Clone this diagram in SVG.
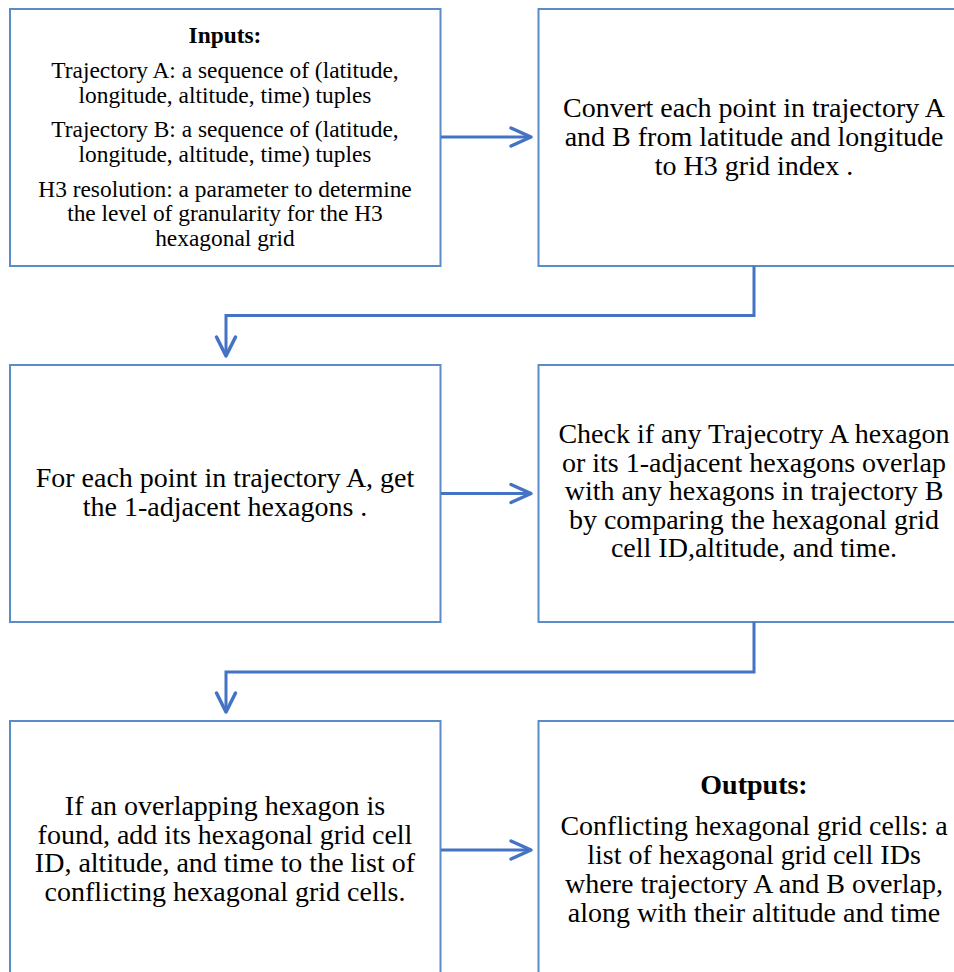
<svg xmlns="http://www.w3.org/2000/svg" width="954" height="972" viewBox="0 0 954 972">
<style>
.box{fill:#fff;stroke:#5B8BC8;stroke-width:2}
.t{font-family:"Liberation Serif","Times New Roman",serif;fill:#000;text-anchor:middle}
.s{font-size:23.4px}
.l{font-size:28px}
.b{font-weight:bold}
.c{fill:none;stroke:#4472C4;stroke-width:3;stroke-linejoin:miter}
.h{fill:none;stroke:#4472C4;stroke-width:3.5;stroke-linecap:round;stroke-linejoin:round}
</style>
<rect width="954" height="972" fill="#fff"/>
<g id="inputs">
<rect class="box" x="10" y="9" width="430.5" height="257"/>
<text class="t s b" x="225" y="43">Inputs:</text>
<text class="t s" x="225" y="78">Trajectory A: a sequence of (latitude,</text>
<text class="t s" x="225" y="102.5">longitude, altitude, time) tuples</text>
<text class="t s" x="225" y="137">Trajectory B: a sequence of (latitude,</text>
<text class="t s" x="225" y="161.5">longitude, altitude, time) tuples</text>
<text class="t s" x="225" y="197">H3 resolution: a parameter to determine</text>
<text class="t s" x="225" y="221">the level of granularity for the H3</text>
<text class="t s" x="225" y="245.5">hexagonal grid</text>
</g>
<g id="convert">
<rect class="box" x="538.5" y="9" width="431" height="257"/>
<text class="t l" x="754" y="117">Convert each point in trajectory A</text>
<text class="t l" x="754" y="146">and B from latitude and longitude</text>
<text class="t l" x="754" y="175">to H3 grid index .</text>
</g>
<g id="adjacent">
<rect class="box" x="10" y="365" width="430.5" height="257"/>
<text class="t l" x="225" y="487">For each point in trajectory A, get</text>
<text class="t l" x="225" y="516">the 1-adjacent hexagons .</text>
</g>
<g id="check">
<rect class="box" x="538.5" y="365" width="431" height="257"/>
<text class="t l" x="754" y="443">Check if any Trajecotry A hexagon</text>
<text class="t l" x="754" y="471.6">or its 1-adjacent hexagons overlap</text>
<text class="t l" x="754" y="500.2">with any hexagons in trajectory B</text>
<text class="t l" x="754" y="528.8">by comparing the hexagonal grid</text>
<text class="t l" x="754" y="557.4">cell ID,altitude, and time.</text>
</g>
<g id="add">
<rect class="box" x="10" y="721" width="430.5" height="257"/>
<text class="t l" x="225" y="815">If an overlapping hexagon is</text>
<text class="t l" x="225" y="843.6">found, add its hexagonal grid cell</text>
<text class="t l" x="225" y="872.2">ID, altitude, and time to the list of</text>
<text class="t l" x="225" y="900.8">conflicting hexagonal grid cells.</text>
</g>
<g id="outputs">
<rect class="box" x="538.5" y="721" width="431" height="257"/>
<text class="t l b" x="754" y="794">Outputs:</text>
<text class="t l" x="754" y="835">Conflicting hexagonal grid cells: a</text>
<text class="t l" x="754" y="864">list of hexagonal grid cell IDs</text>
<text class="t l" x="754" y="893">where trajectory A and B overlap,</text>
<text class="t l" x="754" y="922">along with their altitude and time</text>
</g>
<g id="connectors">
<path class="c" d="M441 137H530"/>
<path class="h" d="M511 128L531 137L511 146"/>
<path class="c" d="M754 266V315.5H226V355"/>
<path class="h" d="M216.5 337L226 356L235.5 337"/>
<path class="c" d="M441 493.5H530"/>
<path class="h" d="M511 484.5L531 493.5L511 502.5"/>
<path class="c" d="M754 622V672H226V711"/>
<path class="h" d="M216.5 693L226 712L235.5 693"/>
<path class="c" d="M441 850H530"/>
<path class="h" d="M511 841L531 850L511 859"/>
</g>
</svg>
